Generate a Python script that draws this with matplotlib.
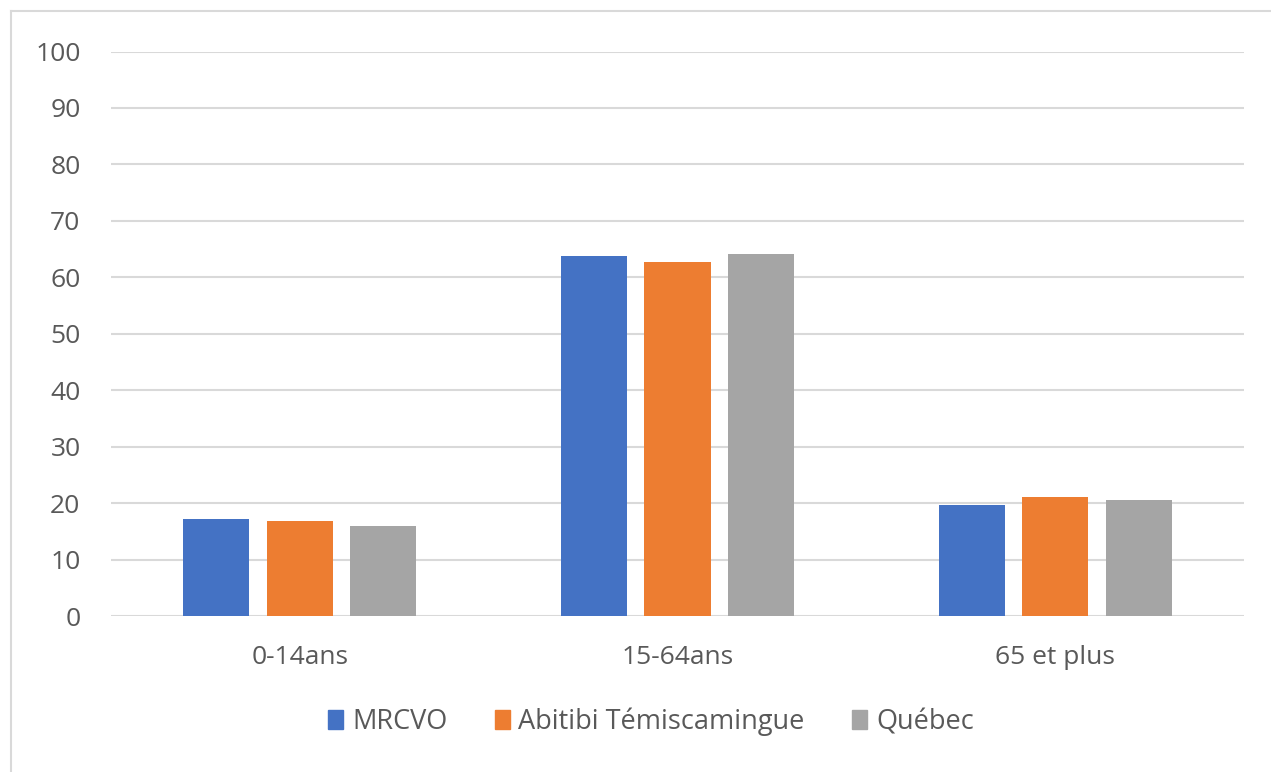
import matplotlib
matplotlib.use("Agg")
import matplotlib.pyplot as plt
import numpy as np
from matplotlib.patches import Rectangle
from matplotlib.lines import Line2D

categories = ["0-14ans", "15-64ans", "65 et plus"]
series_names = ["MRCVO", "Abitibi Témiscamingue", "Québec"]
mrcvo = [17.2, 63.7, 19.7]
abitibi = [16.8, 62.7, 21.1]
quebec = [15.9, 64.1, 20.5]
yticks = [0, 10, 20, 30, 40, 50, 60, 70, 80, 90, 100]

colors = ["#4472C4", "#ED7D31", "#A5A5A5"]
text_color = "#595959"
plt.rcParams['font.family'] = ['Open Sans', 'DejaVu Sans']

W, H = 1271, 772
fig = plt.figure(figsize=(W / 100, H / 100), dpi=100)

# outer chart border (only top and left visible)
fig.add_artist(Line2D([10.5 / W, 10.5 / W], [0, 1 - 11 / H], transform=fig.transFigure, color="#d9d9d9", lw=1.5))
fig.add_artist(Line2D([10.5 / W, 1], [1 - 11 / H, 1 - 11 / H], transform=fig.transFigure, color="#d9d9d9", lw=1.5))

left, right = 111 / W, 1244 / W
bottom, top = 1 - 616 / H, 1 - 51.5 / H
ax = fig.add_axes([left, bottom, right - left, top - bottom])

x = np.arange(len(categories))
bw = 0.175
step = 0.221
for i, (vals, c, name) in enumerate(zip([mrcvo, abitibi, quebec], colors, series_names)):
    ax.bar(x + (i - 1) * step, vals, width=bw, color=c, label=name, zorder=3)

ax.set_xlim(-0.5, len(categories) - 0.5)
ax.set_ylim(0, 100)
ax.set_yticks(yticks)
ax.set_yticklabels([str(v) for v in yticks])
ax.set_xticks(x)
ax.set_xticklabels(categories)
ax.yaxis.grid(True, color="#d9d9d9", lw=1.5, zorder=0)
ax.set_axisbelow(True)
for s in ax.spines.values():
    s.set_visible(False)
ax.tick_params(axis="both", length=0, colors=text_color, labelsize=19)
ax.tick_params(axis="y", pad=22)
ax.tick_params(axis="x", pad=21)

handles = [Rectangle((0, 0), 1, 1, color=c) for c in colors]
fig.legend(handles, series_names, loc="center", bbox_to_anchor=(651 / W, 1 - 722 / H),
           ncol=3, frameon=False, fontsize=19.5, labelcolor=text_color,
           handlelength=0.55, handleheight=0.7, handletextpad=0.33, columnspacing=1.75)

fig.savefig("out.png", dpi=100)
